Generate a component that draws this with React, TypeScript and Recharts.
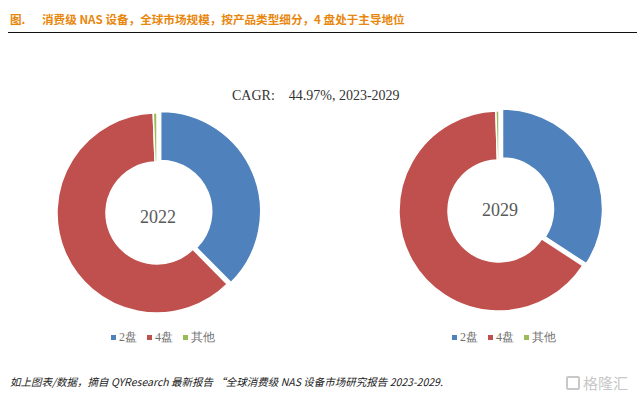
import React from 'react';
import { PieChart, Pie, Cell } from 'recharts';

const categories = ['2盘', '4盘', '其他'];
const colors = ['#4F81BD', '#C0504D', '#9BBB59'];
const values2022 = [37.6, 61.8, 0.6];
const values2029 = [34.2, 65.3, 0.5];
const years = ['2022', '2029'];

const title = '消费级 NAS 设备，全球市场规模，按产品类型细分，4 盘处于主导地位';
const cagrText = 'CAGR:    44.97%, 2023-2029';
const footer = '如上图表/数据，摘自 QYResearch 最新报告 “全球消费级 NAS 设备市场研究报告 2023-2029.';

const toData = (vals: number[]) => categories.map((name, i) => ({ name, value: vals[i] }));
const data2022 = toData(values2022);
const data2029 = toData(values2029);

const explode = (vals: number[], dist: number) => {
  const total = vals.reduce((a, b) => a + b, 0);
  const mid = ((vals[0] / total) * 360) / 2;
  const rad = (mid * Math.PI) / 180;
  return { dx: dist * Math.sin(rad), dy: -dist * Math.cos(rad) };
};

const serif = '"Liberation Serif", "DejaVu Serif", serif';

function Legend({ left, top }: { left: number; top: number }) {
  return (
    <div style={{ position: 'absolute', left, top, display: 'flex', alignItems: 'center', fontFamily: serif, fontSize: 12, color: '#707070', whiteSpace: 'nowrap' }}>
      {categories.map((c, i) => (
        <span key={c} style={{ display: 'flex', alignItems: 'center', marginRight: 10 }}>
          <span style={{ display: 'inline-block', width: 5, height: 5, background: colors[i], marginRight: 3 }} />
          <span>{c}</span>
        </span>
      ))}
    </div>
  );
}

export default function App() {
  const e1 = explode(values2022, 4);
  const e2 = explode(values2029, 4);
  const c1 = { x: 157, y: 213 };
  const c2 = { x: 499, y: 211 };
  const R = 100;
  const r = 51;
  const m = { top: 0, right: 0, bottom: 0, left: 0 };
  return (
    <div style={{ position: 'fixed', left: 0, top: 0, width: 637, height: 396, background: '#fff', overflow: 'hidden' }}>
      <div style={{ position: 'absolute', left: 0, top: 0 }}>
        <PieChart width={637} height={396} margin={m}>
          <Pie data={data2022} dataKey="value" nameKey="name" cx={c1.x} cy={c1.y} innerRadius={r} outerRadius={R} startAngle={90} endAngle={-270} stroke="#fff" strokeWidth={1.5} isAnimationActive={false}>
            {data2022.map((d, i) => (
              <Cell key={d.name} fill={i === 0 ? 'transparent' : colors[i]} stroke={i === 0 ? 'none' : '#fff'} />
            ))}
          </Pie>
          <Pie data={data2022} dataKey="value" nameKey="name" cx={c1.x + e1.dx} cy={c1.y + e1.dy} innerRadius={r} outerRadius={R} startAngle={90} endAngle={-270} stroke="#fff" strokeWidth={1.5} isAnimationActive={false}>
            {data2022.map((d, i) => (
              <Cell key={d.name} fill={i === 0 ? colors[0] : 'transparent'} stroke={i === 0 ? '#fff' : 'none'} />
            ))}
          </Pie>
          <Pie data={data2029} dataKey="value" nameKey="name" cx={c2.x} cy={c2.y} innerRadius={r} outerRadius={R} startAngle={90} endAngle={-270} stroke="#fff" strokeWidth={1.5} isAnimationActive={false}>
            {data2029.map((d, i) => (
              <Cell key={d.name} fill={i === 0 ? 'transparent' : colors[i]} stroke={i === 0 ? 'none' : '#fff'} />
            ))}
          </Pie>
          <Pie data={data2029} dataKey="value" nameKey="name" cx={c2.x + e2.dx} cy={c2.y + e2.dy} innerRadius={r} outerRadius={R} startAngle={90} endAngle={-270} stroke="#fff" strokeWidth={1.5} isAnimationActive={false}>
            {data2029.map((d, i) => (
              <Cell key={d.name} fill={i === 0 ? colors[0] : 'transparent'} stroke={i === 0 ? '#fff' : 'none'} />
            ))}
          </Pie>
        </PieChart>
      </div>

      {/* Title */}
      <div style={{ position: 'absolute', left: 10, top: 11, fontFamily: '"Noto Sans CJK SC", sans-serif', fontWeight: 700, fontSize: 11.6, color: '#E8870E', whiteSpace: 'nowrap', display: 'flex' }}>
        <span style={{ width: 32 }}>图.</span>
        <span>{title}</span>
      </div>
      <div style={{ position: 'absolute', left: 8, top: 32, width: 629, height: 1, background: '#111' }} />

      {/* CAGR */}
      <div style={{ position: 'absolute', left: 232, top: 88, fontFamily: serif, fontSize: 14, color: '#333', whiteSpace: 'pre' }}>{cagrText}</div>

      {/* Center labels */}
      <div style={{ position: 'absolute', left: c1.x - 39, top: 207, width: 80, textAlign: 'center', fontFamily: serif, fontSize: 18, color: '#595959' }}>{years[0]}</div>
      <div style={{ position: 'absolute', left: c2.x - 39, top: 200, width: 80, textAlign: 'center', fontFamily: serif, fontSize: 18, color: '#595959' }}>{years[1]}</div>

      <Legend left={111} top={329} />
      <Legend left={452} top={329} />

      {/* Footer */}
      <div style={{ position: 'absolute', left: 10, top: 374, fontFamily: '"Noto Sans CJK SC", sans-serif', fontStyle: 'italic', fontSize: 10.5, color: '#222', whiteSpace: 'nowrap' }}>{footer}</div>

      {/* Watermark */}
      <div style={{ position: 'absolute', left: 566, top: 372, display: 'flex', alignItems: 'center', color: '#c8c8c8', fontFamily: '"Noto Sans CJK SC", sans-serif', fontSize: 15, whiteSpace: 'nowrap' }}>
        <span style={{ display: 'inline-block', width: 14, height: 14, border: '2px solid #c8c8c8', borderRadius: 2, marginRight: 3, boxSizing: 'border-box' }} />
        <span>格隆汇</span>
      </div>
    </div>
  );
}
